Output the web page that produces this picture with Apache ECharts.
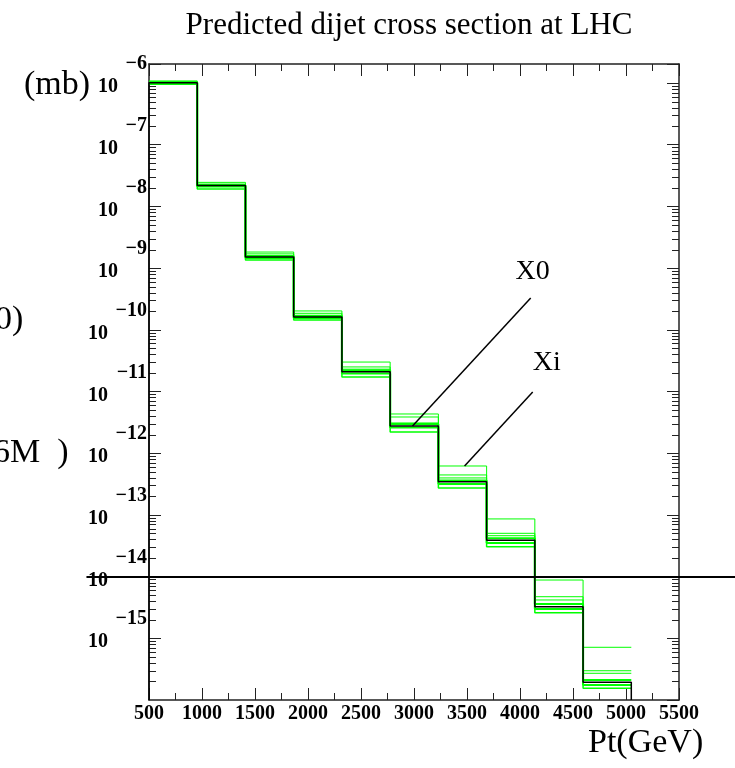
<!DOCTYPE html>
<html>
<head>
<meta charset="utf-8">
<script src="https://cdn.jsdelivr.net/npm/echarts@6/dist/echarts.min.js"></script>
<style>
html, body { margin: 0; padding: 0; background: #fff; }
#chart { width: 735px; height: 768px; }
</style>
</head>
<body>
<div id="chart"></div>
<script>
// bin edges in GeV
var binEdges = [500, 955, 1410, 1865, 2320, 2775, 3230, 3685, 4140, 4595, 5050];

// cross sections (mb) per bin
var central   = [1.01e-6, 2.17e-8, 1.51e-9, 1.61e-10, 2.09e-11, 2.76e-12, 3.45e-13, 3.87e-14, 3.25e-15, 1.94e-16];
var greenTop  = [1.08e-6, 2.45e-8, 1.82e-9, 2.02e-10, 3.00e-11, 4.32e-12, 6.20e-13, 8.60e-14, 8.80e-15, 7.15e-16];
var greenMid1 = [1.05e-6, 2.30e-8, 1.70e-9, 1.85e-10, 2.50e-11, 3.86e-12, 4.44e-13, 5.03e-14, 4.72e-15, 2.98e-16];
var greenMid2 = [1.03e-6, 2.25e-8, 1.60e-9, 1.72e-10, 2.30e-11, 3.09e-12, 3.97e-13, 4.60e-14, 4.18e-15, 2.71e-16];
var greenHi   = [1.02e-6, 2.20e-8, 1.56e-9, 1.68e-10, 2.20e-11, 2.98e-12, 3.60e-13, 4.19e-14, 3.60e-15, 2.11e-16];
var greenLo   = [9.90e-7, 2.10e-8, 1.46e-9, 1.55e-10, 1.95e-11, 2.60e-12, 3.17e-13, 3.50e-14, 2.98e-15, 1.75e-16];
var greenBot  = [9.50e-7, 1.91e-8, 1.35e-9, 1.44e-10, 1.72e-11, 2.21e-12, 2.73e-13, 3.05e-14, 2.60e-15, 1.55e-16];

// axis ranges
var xMin = 500, xMax = 5500, xStep = 500;
var yMin = 1e-16, yMax = 2.03e-6;
var minorMantissa = [2, 3, 4, 5, 6, 7, 8, 9];
var decades = [-16, -15, -14, -13, -12, -11, -10, -9, -8, -7, -6];

// annotations: [x, y] in data units
var x0Line = [[4101, 3.27e-10], [2986, 2.76e-12]];
var xiLine = [[4120, 9.8e-12], [3477, 6.2e-13]];
var x0Text = [4120, 8.65e-10];
var xiText = [4252, 2.9e-11];
var refLineY = 1e-14;
var refLineX = [-90, 6050];

var serif = 'Liberation Serif';
var bigFont = '34px "Liberation Serif"';

function stepData(vals, toFloor) {
    var pts = [];
    if (toFloor) pts.push([binEdges[0], yMin]);
    for (var i = 0; i < vals.length; i++) {
        pts.push([binEdges[i], vals[i]]);
    }
    pts.push([binEdges[vals.length], vals[vals.length - 1]]);
    if (toFloor) pts.push([binEdges[vals.length], yMin]);
    return pts;
}

function histSeries(vals, color, width, toFloor) {
    return {
        type: 'line',
        step: 'end',
        data: stepData(vals, toFloor),
        showSymbol: false,
        silent: true,
        lineStyle: { color: color, width: width },
        z: color === '#000' ? 5 : 3
    };
}

var minorData = [];
decades.forEach(function (d) {
    minorMantissa.forEach(function (m) {
        var v = m * Math.pow(10, d);
        if (v <= yMax) minorData.push([xMin, v]);
    });
});

var myChart = echarts.init(document.getElementById('chart'));

var axisLineStyle = { color: '#222', width: 1.5 };

var textBits = [
    { type: 'text', right: 645, top: 68, style: { text: '(mb)', font: bigFont, fill: '#000' } },
    { type: 'text', left: -5, top: 303, style: { text: '0)', font: bigFont, fill: '#000' } },
    { type: 'text', left: -7, top: 436, style: { text: '6M  )', font: bigFont, fill: '#000' } },
    { type: 'text', left: 588, top: 726, style: { text: 'Pt(GeV)', font: bigFont, fill: '#000' } }
];

var option = {
    animation: false,
    backgroundColor: '#fff',
    title: {
        text: 'Predicted dijet cross section at LHC',
        left: 404,
        top: 5,
        textAlign: 'center',
        textStyle: { fontFamily: serif, fontSize: 31, fontWeight: 'normal', color: '#000' }
    },
    grid: { left: 149, right: 56, top: 64, bottom: 68 },
    xAxis: [{
        type: 'value',
        min: xMin, max: xMax, interval: xStep,
        position: 'bottom',
        axisLine: { lineStyle: axisLineStyle },
        axisTick: { inside: true, length: 12, lineStyle: { color: '#222' } },
        minorTick: { show: true, splitNumber: 2, length: 7, lineStyle: { color: '#222' } },
        splitLine: { show: false },
        axisLabel: {
            margin: 4,
            formatter: function (v) { return String(v); },
            fontFamily: serif, fontWeight: 'bold', fontSize: 20, color: '#000'
        }
    }, {
        type: 'value',
        min: xMin, max: xMax, interval: xStep,
        position: 'top',
        axisLine: { lineStyle: axisLineStyle },
        axisTick: { inside: true, length: 12, lineStyle: { color: '#222' } },
        minorTick: { show: true, splitNumber: 2, length: 7, lineStyle: { color: '#222' } },
        splitLine: { show: false },
        axisLabel: { show: false }
    }],
    yAxis: [{
        type: 'log',
        min: yMin, max: yMax, interval: 1,
        position: 'left',
        axisLine: { lineStyle: axisLineStyle },
        axisTick: { inside: true, length: 12, lineStyle: { color: '#222' } },
        splitLine: { show: false },
        axisLabel: {
            showMinLabel: false,
            margin: 2,
            padding: [0, 0, 14, 0],
            formatter: function (v) {
                var e = Math.log10(v);
                var r = Math.round(e);
                if (Math.abs(e - r) > 1e-6) return '';
                var s = '\u2212' + String(-r);
                return '{e|' + s + '}\n{' + (String(-r).length > 1 ? 'b2' : 'b1') + '|10}';
            },
            rich: {
                e: { fontFamily: serif, fontWeight: 'bold', fontSize: 20, lineHeight: 22, align: 'right', color: '#000' },
                b1: { fontFamily: serif, fontWeight: 'bold', fontSize: 20, lineHeight: 24, align: 'right', padding: [0, 29, 0, 0], color: '#000' },
                b2: { fontFamily: serif, fontWeight: 'bold', fontSize: 20, lineHeight: 24, align: 'right', padding: [0, 39, 0, 0], color: '#000' }
            }
        }
    }, {
        type: 'log',
        min: yMin, max: yMax, interval: 1,
        position: 'right',
        axisLine: { lineStyle: axisLineStyle },
        axisTick: { inside: true, length: 12, lineStyle: { color: '#222' } },
        splitLine: { show: false },
        axisLabel: { show: false }
    }],
    series: [
        histSeries(greenTop, '#00ff00', 1, false),
        histSeries(greenMid1, '#00ff00', 1, false),
        histSeries(greenMid2, '#00ff00', 1, false),
        histSeries(greenHi, '#00ff00', 2, false),
        histSeries(greenLo, '#00ff00', 2, false),
        histSeries(greenBot, '#00ff00', 1.5, false),
        histSeries(central, '#000', 1.5, true),
        {
            type: 'line', data: x0Line, showSymbol: false, silent: true,
            lineStyle: { color: '#000', width: 1.5 }, z: 6
        },
        {
            type: 'line', data: xiLine, showSymbol: false, silent: true,
            lineStyle: { color: '#000', width: 1.5 }, z: 6
        },
        {
            type: 'scatter', symbolSize: 0, silent: true,
            itemStyle: { opacity: 1 },
            data: [{ value: x0Text, name: 'X0' }, { value: xiText, name: 'Xi' }],
            label: {
                show: true, position: 'inside', formatter: '{b}',
                fontFamily: serif, fontSize: 28, color: '#000',
                textBorderWidth: 0, opacity: 1
            }
        },
        {
            // minor log ticks on both vertical frame sides
            type: 'custom',
            data: minorData,
            encode: { x: 0, y: 1 },
            silent: true,
            renderItem: function (params, api) {
                var v = api.value(1);
                var pl = api.coord([xMin, v]);
                var pr = api.coord([xMax, v]);
                var y = Math.round(pl[1]) + 0.5;
                return {
                    type: 'group',
                    children: [
                        { type: 'line', shape: { x1: pl[0], y1: y, x2: pl[0] + 7, y2: y }, style: { stroke: '#222', lineWidth: 1 } },
                        { type: 'line', shape: { x1: pr[0], y1: y, x2: pr[0] - 7, y2: y }, style: { stroke: '#222', lineWidth: 1 } }
                    ]
                };
            }
        }
    ],
    graphic: textBits
};

myChart.setOption(option);

// stray horizontal reference line at 1e-14 spanning past the frame
var p1 = myChart.convertToPixel({ gridIndex: 0 }, [refLineX[0], refLineY]);
var p2 = myChart.convertToPixel({ gridIndex: 0 }, [refLineX[1], refLineY]);
myChart.setOption({
    graphic: textBits.concat([
        { type: 'line', z: 10, shape: { x1: p1[0], y1: Math.round(p1[1]), x2: p2[0], y2: Math.round(p1[1]) }, style: { stroke: '#000', lineWidth: 2 } }
    ])
});
</script>
</body>
</html>
